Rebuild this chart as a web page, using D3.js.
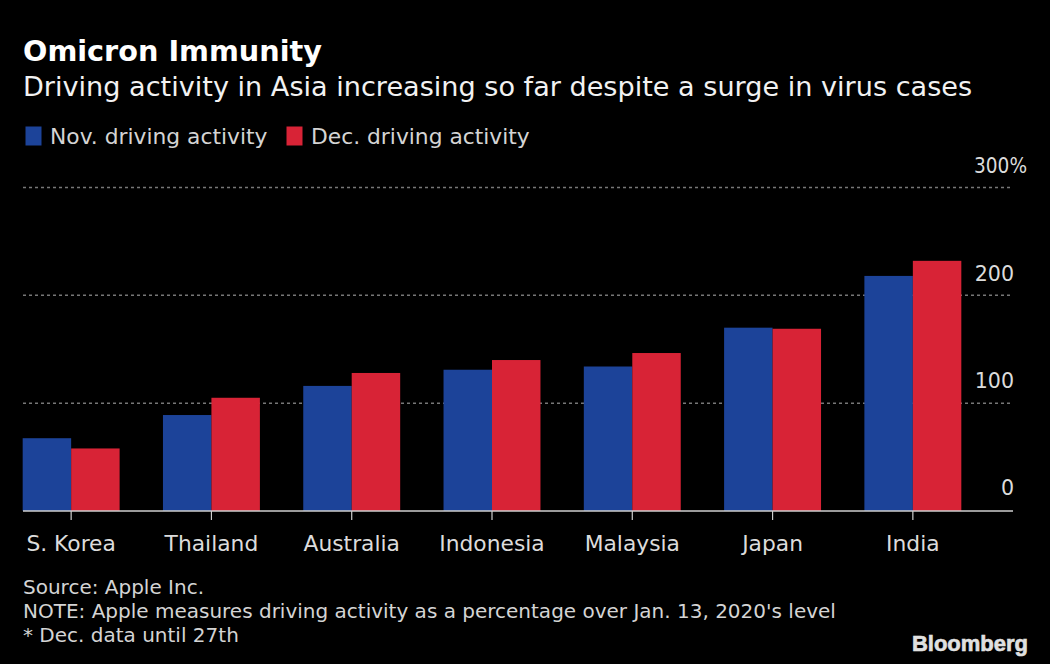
<!DOCTYPE html>
<html><head><meta charset="utf-8">
<script src="https://cdnjs.cloudflare.com/ajax/libs/d3/7.8.5/d3.min.js"></script>
<style>html,body{margin:0;padding:0;background:#000}svg{display:block}text{font-family:"DejaVu Sans",sans-serif}</style>
</head><body><svg id="c" width="1050" height="664"></svg>
<script>
const categories=["S. Korea","Thailand","Australia","Indonesia","Malaysia","Japan","India"];
const seriesNames=["Nov. driving activity","Dec. driving activity"];
const novValues=[67.5,89,116,131,134,170,218];
const decValues=[58,105,128,140,146.5,169,232];
const yTicks=[0,100,200,300];
const notes=["Source: Apple Inc.","NOTE: Apple measures driving activity as a percentage over Jan. 13, 2020's level","* Dec. data until 27th"];
const blue="#1c4399",red="#d82336";
const svg=d3.select("#c");
svg.append("rect").attr("width",1050).attr("height",664).attr("fill","#000");
const x=d3.scaleBand().domain(categories).range([1,983]).paddingInner(0.309).paddingOuter(0.1545);
const x1=d3.scaleBand().domain([0,1]).range([0,x.bandwidth()]);
const y=d3.scaleLinear().domain([0,300]).range([511,187.5]);
const T=(s,px,py,size,fill,w,anchor)=>svg.append("text").text(s).attr("x",px).attr("y",py).attr("font-size",size).attr("fill",fill).attr("font-weight",w||400).attr("text-anchor",anchor||"start");
T("Omicron Immunity",23,60.5,28.7,"#fff",700);
T("Driving activity in Asia increasing so far despite a surge in virus cases",23,95.5,27.1,"#f2f2f2");
seriesNames.forEach((n,i)=>{const lx=[25.5,286.5][i];
 svg.append("rect").attr("x",lx).attr("y",126.5).attr("width",16).attr("height",19).attr("fill",i?red:blue);
 T(n,lx+24.5,144,21.8,"#d4d4d4");});
yTicks.filter(d=>d>0).forEach(d=>svg.append("line").attr("x1",23).attr("x2",1013).attr("y1",y(d)).attr("y2",y(d)).attr("stroke","#777").attr("stroke-width",1.5).attr("stroke-dasharray","3 3"));
const labelLift=[16,15.5,14.5,14.5];
yTicks.forEach((d,i)=>{const t=T(d===300?"300%":String(d),d===300?1027:1014,y(d)-labelLift[i],21.5,"#dcdcdc",400,"end");
 if(d===300)t.attr("textLength",53).attr("lengthAdjust","spacingAndGlyphs");
 else t.attr("font-size",20.6);});
[novValues,decValues].forEach((vals,s)=>{
 svg.append("g").selectAll("rect").data(vals).join("rect")
 .attr("x",(d,i)=>x(categories[i])+x1(s)).attr("width",x1.bandwidth())
 .attr("y",d=>y(d)).attr("height",d=>y(0)-y(d)).attr("fill",s?red:blue);});
svg.append("line").attr("x1",23).attr("x2",1013).attr("y1",511).attr("y2",511).attr("stroke","#cfcfcf").attr("stroke-width",1.6);
categories.forEach(c=>{const cx=x(c)+x.bandwidth()/2;
 svg.append("line").attr("x1",cx).attr("x2",cx).attr("y1",511).attr("y2",520).attr("stroke","#cfcfcf").attr("stroke-width",1.2);
 T(c,cx,551,21.8,"#dcdcdc",400,"middle");});
notes.forEach((n,i)=>T(n,23,[594,618,642][i],20,"#d4d4d4"));
svg.append("text").text("Bloomberg").attr("x",1028).attr("y",650.5).attr("text-anchor","end").attr("font-size",22).attr("font-weight",700).attr("fill","#e0e0e0").attr("stroke","#e0e0e0").attr("stroke-width",0.6).style("font-family","'Liberation Sans',sans-serif");
</script></body></html>
